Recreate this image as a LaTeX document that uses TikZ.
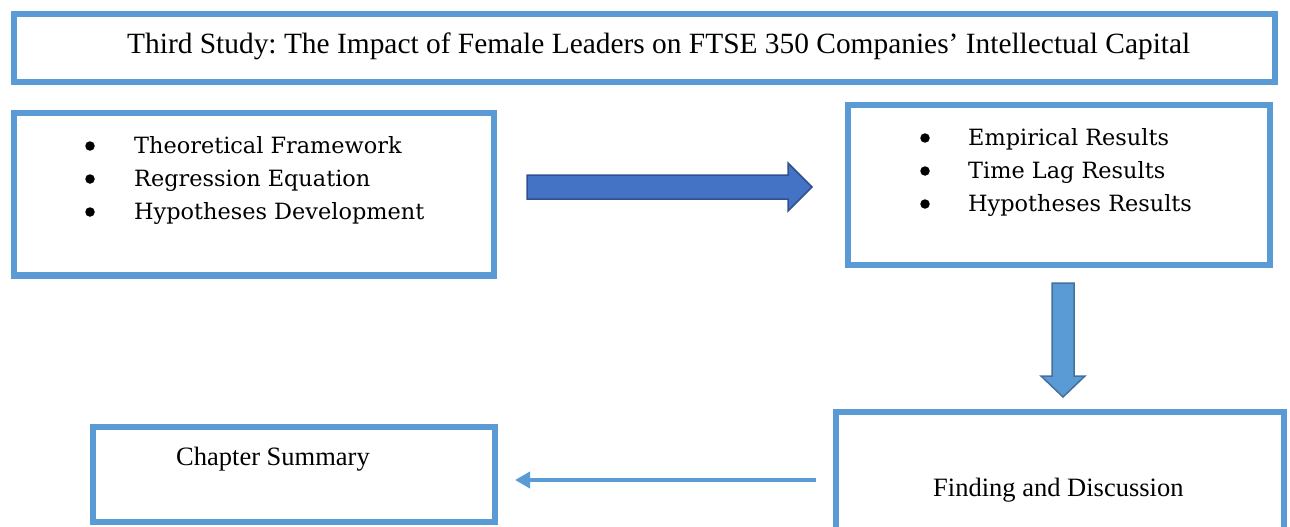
\documentclass[tikz,border=0pt]{standalone}
\usepackage{fontspec}
\setmainfont{Liberation Serif}
\newfontfamily\bulletfont{DejaVu Serif}
\usetikzlibrary{arrows.meta}
\frenchspacing
\definecolor{boxblue}{HTML}{5B9BD5}
\definecolor{arrowblue}{HTML}{4472C4}
\definecolor{arrowedge}{HTML}{2F528F}
\definecolor{downedge}{HTML}{41719C}
\tikzset{
  box/.style={draw=boxblue, line width=6.5pt, fill=white, inner sep=0pt},
  titletext/.style={font=\fontsize{29.4}{34}\selectfont, inner sep=0pt, anchor=base west},
  plaintext/.style={font=\fontsize{26.5}{31}\selectfont, inner sep=0pt, anchor=base west},
  itemtext/.style={font=\bulletfont\fontsize{22.4}{27}\selectfont, inner sep=0pt, anchor=base west},
  dot/.style={circle, fill=black, inner sep=0pt, minimum size=9.5pt},
  blockright/.style={fill=arrowblue, draw=arrowedge, line width=1.5pt, line join=miter},
  blockdown/.style={fill=boxblue, draw=downedge, line width=1.5pt, line join=miter},
  thinarrow/.style={draw=boxblue, line width=4pt, -{Triangle[length=15pt,width=16pt]}}
}
\begin{document}
\begin{tikzpicture}[x=1pt,y=-1pt]
\useasboundingbox (0,0) rectangle (1290,527);
\clip (0,0) rectangle (1290,527);
% boxes
\node[box, minimum width=1261pt, minimum height=68pt] (title) at (644.5,48) {};
\node[box, minimum width=480pt, minimum height=162.5pt] (left) at (254,194) {};
\node[box, minimum width=422pt, minimum height=160pt] (right) at (1059,185) {};
\node[box, minimum width=402pt, minimum height=95pt] (summary) at (294,474.5) {};
\node[box, minimum width=448pt, minimum height=140pt] (finding) at (1060,482) {};
% texts
\node[titletext] (titletxt) at (127,54) {Third Study: The Impact of Female Leaders on FTSE 350 Companies’ Intellectual Capital};
\node[itemtext] (l1) at (134,153) {Theoretical Framework};
\node[itemtext] (l2) at (134,186) {Regression Equation};
\node[itemtext] (l3) at (134,219) {Hypotheses Development};
\node[dot] (bl1) at (90,146) {};
\node[dot] (bl2) at (90,179) {};
\node[dot] (bl3) at (90,212) {};
\node[itemtext] (r1) at (968,145) {Empirical Results};
\node[itemtext] (r2) at (968,178) {Time Lag Results};
\node[itemtext] (r3) at (968,211) {Hypotheses Results};
\node[dot] (br1) at (925,138) {};
\node[dot] (br2) at (925,171) {};
\node[dot] (br3) at (925,204) {};
\node[plaintext] (sumtxt) at (176,465) {Chapter Summary};
\node[plaintext] (findtxt) at (933,496) {Finding and Discussion};
% block arrows
\draw[blockright] (527,175) -- (788,175) -- (788,163) -- (812,187) -- (788,211) -- (788,199) -- (527,199) -- cycle;
\draw[blockdown] (1052,283) -- (1074,283) -- (1074,376) -- (1085,376) -- (1063,397) -- (1041,376) -- (1052,376) -- cycle;
% thin arrow
\coordinate (la) at (816,480);
\coordinate (lb) at (515,480);
\draw[thinarrow] (la) -- (lb);
\end{tikzpicture}
\end{document}
